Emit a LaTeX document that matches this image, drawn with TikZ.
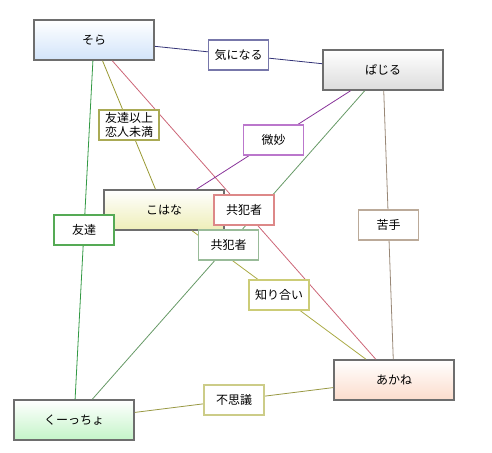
\documentclass[tikz,border=0pt]{standalone}
\usepackage{fontspec}
\setmainfont{Noto Sans CJK JP}
\usetikzlibrary{calc}
\definecolor{boxline}{HTML}{6E6E6E}
\definecolor{cSora}{HTML}{D2E4FA}
\definecolor{cBajiru}{HTML}{DCDCDC}
\definecolor{cKohana}{HTML}{EEEEB8}
\definecolor{cAkane}{HTML}{FCDCCC}
\definecolor{cKuccho}{HTML}{C4F4C8}
\definecolor{eNavy}{HTML}{333377}\definecolor{lNavy}{HTML}{7777AA}
\definecolor{eOlive}{HTML}{999933}\definecolor{lOlive}{HTML}{AAAA55}
\definecolor{eRed}{HTML}{CC6677}\definecolor{lRed}{HTML}{DD8888}
\definecolor{eGreen}{HTML}{339944}\definecolor{lGreen}{HTML}{55AA55}
\definecolor{ePurple}{HTML}{883399}\definecolor{lPurple}{HTML}{BB77CC}
\definecolor{eSage}{HTML}{669966}\definecolor{lSage}{HTML}{99BB99}
\definecolor{eBrown}{HTML}{998877}\definecolor{lBrown}{HTML}{BBAA99}
\definecolor{eYellow}{HTML}{AAAA44}\definecolor{lYellow}{HTML}{CCCC77}
\definecolor{eKhaki}{HTML}{999944}\definecolor{lKhaki}{HTML}{CCCC88}
\begin{document}
\begin{tikzpicture}[x=1pt, y=-1pt,
  person/.style={draw=boxline, line width=1.6pt, minimum width=120pt, minimum height=40pt,
    inner sep=0pt, font=\fontsize{12}{14}\selectfont, top color=white, bottom color=#1},
  rel/.style={draw=#1, fill=white, line width=1.2pt, minimum width=60pt, minimum height=30pt,
    inner sep=1pt, align=center, font=\fontsize{12}{14}\selectfont},
  tie/.style={draw=#1, line width=0.8pt}]
\useasboundingbox (0,0) rectangle (492,452);
% characters
\node[person=cSora] (sora) at (94,40) {そら};
\node[person=cBajiru] (bajiru) at (383,70) {ぱじる};
\node[person=cKohana] (kohana) at (164,210) {こはな};
\node[person=cAkane] (akane) at (394,380) {あかね};
\node[person=cKuccho] (kuccho) at (74,420) {くーっちょ};

% relations
\draw[tie=eNavy] (sora) -- (bajiru);
\draw[tie=eOlive] (sora) -- (kohana);
\draw[tie=eRed] (sora) -- (akane);
\draw[tie=eGreen] (sora) -- (kuccho);
\draw[tie=ePurple] (bajiru) -- (kohana);
\draw[tie=eSage] (bajiru) -- (kuccho);
\draw[tie=eBrown] (bajiru) -- (akane);
\draw[tie=eYellow] (kohana) -- (akane);
\draw[tie=eKhaki] (kuccho) -- (akane);

% labels
\node[rel=lNavy] (kininaru) at ($(sora)!0.5!(bajiru)$) {気になる};
\node[rel=lOlive] (ijou) at ($(sora)!0.5!(kohana)$) {友達以上\\恋人未満};
\node[rel=lPurple] (bimyou) at ($(bajiru)!0.5!(kohana)$) {微妙};
\node[rel=lBrown] (nigate) at ($(bajiru)!0.5!(akane)$) {苦手};
\node[rel=lGreen] (tomodachi) at ($(sora)!0.5!(kuccho)$) {友達};
\node[rel=lRed] (kyouhanA) at ($(sora)!0.5!(akane)$) {共犯者};
\node[rel=lSage] (kyouhanB) at ($(bajiru)!0.5!(kuccho)$) {共犯者};
\node[rel=lYellow] (shiriai) at ($(kohana)!0.5!(akane)$) {知り合い};
\node[rel=lKhaki] (fushigi) at ($(kuccho)!0.5!(akane)$) {不思議};
\end{tikzpicture}
\end{document}
